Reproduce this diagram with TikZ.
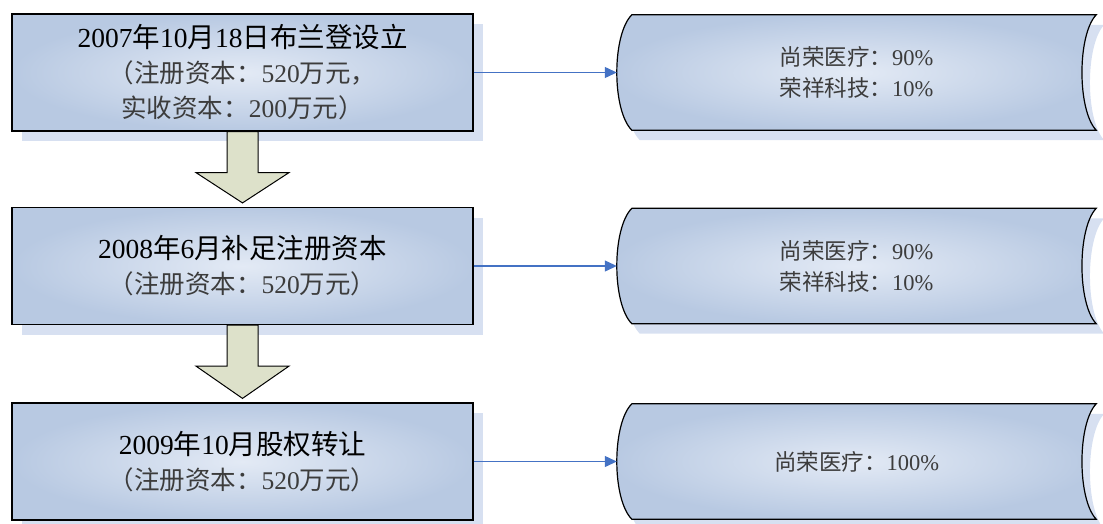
\documentclass[tikz,border=0pt]{standalone}
\usepackage{fontspec}
\setmainfont{Liberation Serif}
\newfontfamily\zh{Noto Sans CJK SC}
\usepackage{xcolor}
\usepackage{tikz}
\usetikzlibrary{positioning, calc, arrows.meta, shadows, backgrounds}

\definecolor{boxblue}{HTML}{B8C9E2}
\definecolor{boxlight}{HTML}{E3EAF5}
\definecolor{shadowblue}{HTML}{D7E0F1}
\definecolor{linkblue}{HTML}{4472C4}
\definecolor{stepgreen}{HTML}{DDE1CA}
\definecolor{textgray}{HTML}{3C3C3C}

\begin{document}
\begin{tikzpicture}[x=1pt, y=-1pt,
      stage/.style={rectangle, draw=black, line width=1.2pt, inner color=boxlight, outer color=boxblue,
        minimum width=461, minimum height=117, align=center, text=textgray,
        font=\fontsize{25.5}{35}\selectfont,
        drop shadow={shadow xshift=10pt, shadow yshift=-10pt, fill=shadowblue, opacity=1}},
      record/.style={rectangle, minimum width=479, minimum height=115, align=center, text=textgray,
        font=\fontsize{22.5}{31}\selectfont},
      recordshape/.style={draw=black, line width=1.2pt, inner color=boxlight, outer color=boxblue,
        drop shadow={shadow xshift=8pt, shadow yshift=-10pt, fill=shadowblue, opacity=1}},
      link/.style={draw=linkblue, line width=1.2pt, -{Triangle[length=12pt, width=11pt]}},
      downstep/.style={draw=black, line width=1pt, fill=stepgreen}]

      \useasboundingbox (0,0) rectangle (1103,523);

      % Stages
      \node[stage] (b1) at (242.5,72.5) {{\color{black}\fontsize{27.5}{35}\selectfont 2007{\zh 年}10{\zh 月}18{\zh 日布兰登设立}}\\
        {\zh （注册资本：}520{\zh 万元，}\\
        {\zh 实收资本：}200{\zh 万元）}};
      \node[stage] (b2) at (242.5,266) {{\color{black}\fontsize{27.5}{35}\selectfont 2008{\zh 年}6{\zh 月补足注册资本}}\\
        {\zh （注册资本：}520{\zh 万元）}};
      \node[stage] (b3) at (242.5,461.5) {{\color{black}\fontsize{27.5}{35}\selectfont 2009{\zh 年}10{\zh 月股权转让}}\\
        {\zh （注册资本：}520{\zh 万元）}};

      % Shareholders
      \node[record] (r1) at (856.5,72.5) {{\zh 尚荣医疗：}90\%\\{\zh 荣祥科技：}10\%};
      \node[record] (r2) at (856.5,266) {{\zh 尚荣医疗：}90\%\\{\zh 荣祥科技：}10\%};
      \node[record] (r3) at (856.5,461.5) {{\zh 尚荣医疗：}100\%};

      % outlines of the records sit behind their text
      \begin{scope}[on background layer]
        \foreach \r in {r1,r2,r3}
          \path[recordshape] ($(\r.north west)+(15,0)$) -- (\r.north east)
            .. controls ($(\r.north east)+(-19,20)$) and ($(\r.south east)+(-19,-20)$) .. (\r.south east)
            -- ($(\r.south west)+(15,0)$)
            .. controls ($(\r.south west)+(-5,-20)$) and ($(\r.north west)+(-5,20)$) .. cycle;
      \end{scope}

      % Block arrows between stages
      \foreach \a/\b in {b1/b2, b2/b3}
        \draw[downstep] ($(\a.south)+(-15.5,0)$) -- ++(0,41) -- ++(-31,0) -- ($(\b.north)+(0,-4)$)
          -- ($(\a.south)+(46.5,41)$) -- ++(-31,0) -- ++(0,-41) -- cycle;

      % Links
      \foreach \a/\b in {b1/r1, b2/r2, b3/r3}
        \draw[link] (\a.east) -- (\b.west);
    \end{tikzpicture}
\end{document}
